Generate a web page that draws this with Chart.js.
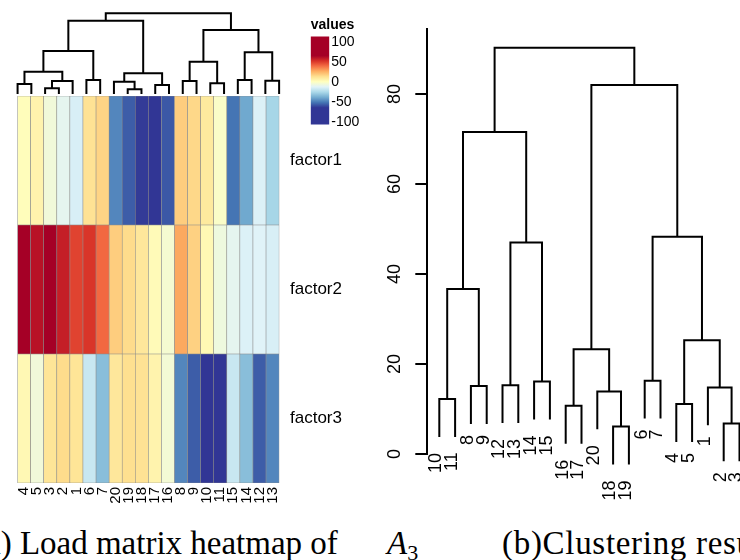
<!DOCTYPE html>
<html>
<head>
<meta charset="utf-8">
<script src="https://cdn.jsdelivr.net/npm/chart.js@4.4.1/dist/chart.umd.min.js"></script>
<style>
  html, body { margin: 0; padding: 0; background: #fff; }
  body { width: 740px; height: 560px; overflow: hidden; position: relative; }
  canvas { position: absolute; }
  .cap { position: absolute; font-family: 'Liberation Serif', serif; font-size: 33px; line-height: 33px; white-space: nowrap; color: #000; }
</style>
</head>
<body>
<canvas id="heat" width="370" height="520" style="left:0;top:0"></canvas>
<canvas id="colTree" width="370" height="100" style="left:0;top:0"></canvas>
<canvas id="scale" width="80" height="140" style="left:290px;top:0"></canvas>
<canvas id="tree" width="390" height="520" style="left:370px;top:0"></canvas>
<div class="cap" style="left:-25px;top:527px">(a) Load matrix heatmap of</div>
<div class="cap" style="left:387px;top:527px"><i>A</i><span style="font-size:22px;position:relative;top:6px">3</span></div>
<div class="cap" style="left:502px;top:527px;letter-spacing:0.7px">(b)Clustering results</div>
<script>
// heatmap (a): columns in dendrogram order, one array per factor
const columnOrder = ['4', '5', '3', '2', '1', '6', '7', '20', '19', '18', '17', '16', '8', '9', '10', '11', '15', '14', '12', '13'];
const factorNames = ['factor1', 'factor2', 'factor3'];
const factor1 = [1, 5, -6, -11, -15, 12, 16, -48, -57, -64, -66, -58, 18, 15, 9, -2, -52, -40, -14, -27];
const factor2 = [80, 60, 68, 57, 48, 51, 40, 18, 14, 10, 2, -4, 27, 17, 3, -7, -11, -14, -13, -15];
const factor3 = [3, -6, 11, 14, 11, -19, -34, 10, 13, 12, 5, -5, -48, -57, -72, -66, -19, -34, -57, -48];
const legendTicks = [-100, -50, 0, 50, 100];
const legendRange = [-106, 112];

// column dendrogram, hclust style: negative = leaf label, positive = earlier merge (1-based)
const colMerge = [[-19, -18], [-3, -2], [-17, -16], [-4, -5], [-10, -11], [-20, 1], [2, -1], [-8, -9], [-12, -13], [-6, -7],
  [-15, -14], [6, 3], [4, 7], [8, 5], [11, 9], [13, 10], [14, 15], [16, 12], [18, 17]];
const colHeight = [4.7, 5.7, 9, 10, 10.7, 12.3, 13, 13, 13.3, 14, 14, 20.7, 22.3, 32.3, 41.7, 43, 64, 73.3, 80.7];

// clustering result (b)
const treeOrder = [10, 11, 8, 9, 12, 13, 14, 15, 16, 17, 20, 18, 19, 6, 7, 4, 5, 1, 2, 3];
const treeMerge = [[-18, -19], [-2, -3], [-16, -17], [-4, -5], [-10, -11], [-20, 1], [-1, 2], [-8, -9], [-12, -13], [-14, -15],
  [-6, -7], [3, 6], [4, 7], [5, 8], [9, 10], [11, 13], [14, 15], [12, 16], [17, 18]];
const treeHeight = [6.1, 6.8, 10.7, 11.1, 12.2, 13.9, 14.8, 15.1, 15.3, 16.1, 16.3, 23.3, 25.3, 36.7, 47.0, 48.3, 71.6, 82.0, 90.3];
const treeTicks = [0, 20, 40, 60, 80];

const palette = ['#313695', '#4575B4', '#74ADD1', '#ABD9E9', '#E0F3F8', '#FFFFBF', '#FEE090', '#FDAE61', '#F46D43', '#D73027', '#A50026'];
const colorLimit = 65;

Chart.defaults.animation = false;
Chart.defaults.responsive = false;
Chart.defaults.color = '#000';
Chart.defaults.font.family = "'Liberation Sans', Arial, sans-serif";
Chart.defaults.plugins.legend.display = false;
Chart.defaults.plugins.tooltip.enabled = false;

const hexToRgb = (h) => {
  const n = parseInt(h.slice(1), 16);
  return [(n >> 16) & 255, (n >> 8) & 255, n & 255];
};

const valueColor = (v) => {
  const c = Math.max(-colorLimit, Math.min(colorLimit, v));
  const t = (c + colorLimit) / (2 * colorLimit) * (palette.length - 1);
  const i = Math.min(Math.floor(t), palette.length - 2);
  const f = t - i;
  const a = hexToRgb(palette[i]);
  const b = hexToRgb(palette[i + 1]);
  return 'rgb(' + a.map((x, k) => Math.round(x + (b[k] - x) * f)).join(',') + ')';
};

// turns an hclust merge table into bracket segments; hang = null keeps leaves at 0
const dendrogram = (order, merge, height, offset, hang) => {
  const pos = {};
  order.forEach((lab, i) => { pos[lab] = i + offset; });
  const end = {};
  const nodes = [];
  const segments = merge.map((pair, k) => {
    const h = height[k];
    const [a, b] = pair.map((c) => {
      if (c > 0) return nodes[c - 1];
      const y = hang === null ? 0 : h - hang;
      end[-c] = y;
      return { x: pos[-c], y };
    });
    nodes.push({ x: (a.x + b.x) / 2, y: h });
    return [{ x: a.x, y: a.y }, { x: a.x, y: h }, { x: b.x, y: h }, { x: b.x, y: b.y }];
  });
  return { pos, end, segments };
};

const lineSets = (segments) => segments.map((s) => ({
  data: s,
  borderColor: '#000',
  borderWidth: 2,
  borderJoinStyle: 'miter',
  pointRadius: 0,
  fill: false,
  clip: false,
}));

// heatmap cells
const rows = [factor3, factor2, factor1];
new Chart(document.getElementById('heat'), {
  type: 'bar',
  data: {
    datasets: rows.map((vals, r) => ({
      data: vals.map((v, i) => ({ x: i + 0.5, y: [r, r + 1] })),
      backgroundColor: vals.map(valueColor),
      borderColor: '#8a8a8a',
      borderWidth: 0.6,
      borderSkipped: false,
      barPercentage: 1,
      categoryPercentage: 1,
      grouped: false,
    })),
  },
  options: {
    layout: { padding: { left: 10.7, top: 96, right: 0, bottom: 0 } },
    scales: {
      x: {
        type: 'linear', min: 0, max: 20,
        afterBuildTicks: (s) => { s.ticks = columnOrder.map((_, i) => ({ value: i + 0.5 })); },
        afterFit: (s) => { s.height = 37; },
        ticks: {
          autoSkip: false, minRotation: 90, maxRotation: 90, padding: 4,
          font: { size: 15 },
          callback: (v, i) => columnOrder[i],
        },
        grid: { display: false, drawTicks: false },
        border: { display: false },
      },
      y: {
        type: 'linear', position: 'right', min: 0, max: 3,
        afterBuildTicks: (s) => { s.ticks = [0.5, 1.5, 2.5].map((v) => ({ value: v })); },
        afterFit: (s) => { s.width = 84; },
        ticks: {
          padding: 4,
          font: { size: 17 },
          callback: (v) => factorNames[2 - Math.floor(v)],
        },
        grid: { display: false, drawTicks: false },
        border: { display: false },
      },
    },
  },
});

// column dendrogram above the heatmap
const colTree = dendrogram(columnOrder, colMerge, colHeight, 0.5, null);
new Chart(document.getElementById('colTree'), {
  type: 'line',
  data: { datasets: lineSets(colTree.segments) },
  options: {
    layout: { padding: { left: 10.7, right: 84, top: 13.3, bottom: 6 } },
    scales: {
      x: { type: 'linear', min: 0, max: 20, display: false },
      y: { type: 'linear', min: 0, max: Math.max(...colHeight), display: false },
    },
  },
});

// colour key
new Chart(document.getElementById('scale'), {
  type: 'bar',
  data: {
    labels: [''],
    datasets: [{
      data: [legendRange],
      barPercentage: 1,
      categoryPercentage: 1,
      borderWidth: 0,
      backgroundColor: (ctx) => {
        const chart = ctx.chart;
        if (!chart.chartArea) return palette[5];
        const y = chart.scales.y;
        const g = chart.ctx.createLinearGradient(0, y.getPixelForValue(colorLimit), 0, y.getPixelForValue(-colorLimit));
        palette.slice().reverse().forEach((c, k) => g.addColorStop(k / (palette.length - 1), c));
        return g;
      },
    }],
  },
  options: {
    layout: { padding: { left: 20.7, top: 16.8, right: 0.7, bottom: 14.3 } },
    plugins: {
      title: {
        display: true, text: 'values', align: 'start', color: '#000',
        font: { size: 14, weight: 'bold' },
        padding: { top: 0, bottom: 2.1 },
      },
    },
    scales: {
      x: { display: false },
      y: {
        position: 'right', min: -110, max: 115, z: 1,
        afterBuildTicks: (s) => { s.ticks = legendTicks.map((v) => ({ value: v })); },
        afterFit: (s) => { s.width = 40; },
        ticks: { padding: 2, font: { size: 14 } },
        grid: { display: true, drawTicks: false, color: '#fff', lineWidth: 1.5 },
        border: { display: false, dash: [4.5, 9.6] },
      },
    },
  },
});

// clustering dendrogram (b)
const n = treeOrder.length;
const hang = 0.1 * (Math.max(...treeHeight) - Math.min(...treeHeight));
const tree = dendrogram(treeOrder, treeMerge, treeHeight, 1, hang);

const treeLabels = {
  id: 'treeLabels',
  afterDatasetsDraw(chart) {
    const { ctx, chartArea } = chart;
    const { x, y } = chart.scales;
    ctx.save();
    ctx.fillStyle = '#000';
    ctx.font = "18px 'Liberation Sans', Arial, sans-serif";
    ctx.textBaseline = 'middle';
    treeOrder.forEach((lab) => {
      const text = String(lab);
      const w = ctx.measureText(text).width;
      ctx.save();
      ctx.translate(x.getPixelForValue(tree.pos[lab]) - 3, y.getPixelForValue(tree.end[lab]) + 6 + 0.5 * w);
      ctx.rotate(-Math.PI / 2);
      ctx.textAlign = 'right';
      ctx.fillText(text, 0, 0);
      ctx.restore();
    });
    y.ticks.forEach((t) => {
      ctx.save();
      ctx.translate(chartArea.left - 32, y.getPixelForValue(t.value));
      ctx.rotate(-Math.PI / 2);
      ctx.textAlign = 'center';
      ctx.fillText(String(t.value), 0, 0);
      ctx.restore();
    });
    ctx.restore();
  },
};

new Chart(document.getElementById('tree'), {
  type: 'line',
  data: { datasets: lineSets(tree.segments) },
  plugins: [treeLabels],
  options: {
    layout: { padding: { left: 0, right: 8.5, top: 29.3, bottom: 66 } },
    scales: {
      x: { type: 'linear', min: 1 - 0.04 * (n - 1), max: n + 0.04 * (n - 1), display: false },
      y: {
        type: 'linear', min: 0, max: 94.4,
        afterBuildTicks: (s) => { s.ticks = treeTicks.map((v) => ({ value: v })); },
        afterFit: (s) => { s.width = 57.3; },
        ticks: { display: false },
        grid: { display: true, drawOnChartArea: false, drawTicks: true, tickLength: 12, color: '#000', lineWidth: 2 },
        border: { display: true, color: '#000', width: 2 },
      },
    },
  },
});
</script>
</body>
</html>
